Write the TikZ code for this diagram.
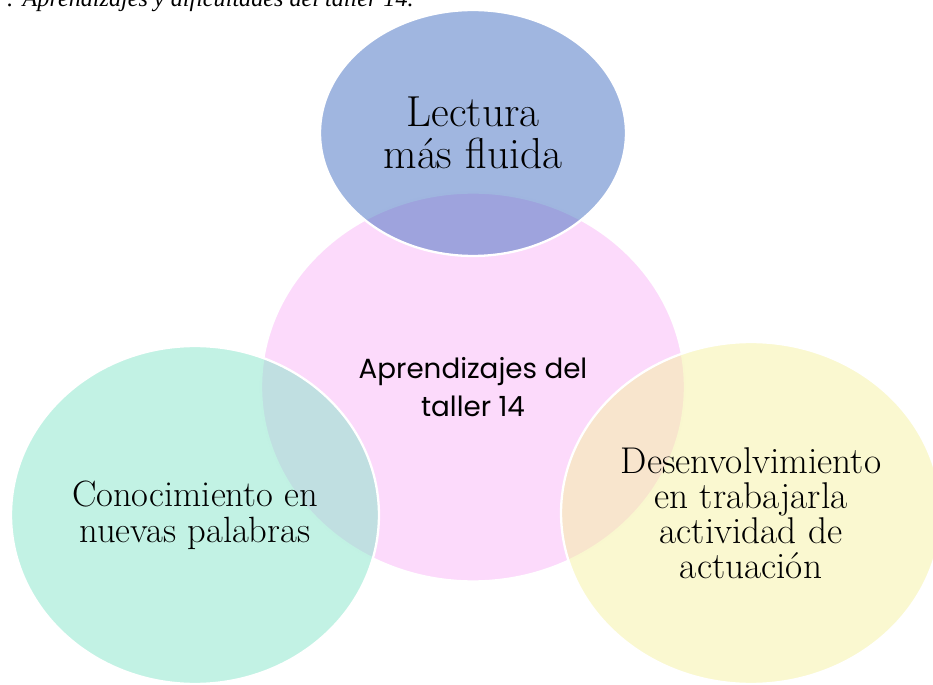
\documentclass[tikz,border=0pt]{standalone}
\usepackage{fontspec}
\usepackage{xcolor}
\usepackage{tikz}
\usetikzlibrary{shapes.geometric}
\newfontfamily\capfont{Liberation Serif}
\newfontfamily\handfont{Poppins}
\definecolor{bluec}{HTML}{416DC1}
\definecolor{pinkc}{HTML}{FCDAFB}
\definecolor{greenc}{HTML}{85E5C9}
\definecolor{yellowc}{HTML}{F5F1A1}
\tikzset{
  blob/.style={ellipse,draw=white,line width=1.3pt,inner sep=0pt,align=center,text opacity=1},
  soft/.style={blob,fill opacity=0.5,draw opacity=1}
}
\begin{document}
\begin{tikzpicture}[x=0.02cm,y=-0.02cm]
\useasboundingbox (0,0) rectangle (933,685);
\clip (0,0) rectangle (933,685);
% caption, cut at the top
\node[anchor=base east,inner sep=0pt,font=\capfont\itshape\fontsize{13.75}{15}\selectfont] (cap) at (414,7) {: Aprendizajes y dificultades del taller 14.};
% centre
\node[blob,fill=pinkc,minimum width=8.48cm,minimum height=7.78cm,font=\handfont\fontsize{15.8}{21.6}\selectfont] (mid) at (473,387) {Aprendizajes del\\taller 14};
% outer ones
\node[soft,fill=bluec,minimum width=6.12cm,minimum height=4.92cm,font=\fontsize{24.7}{24}\selectfont] (top) at (473,133) {Lectura\\más fluida};
\node[soft,fill=greenc,minimum width=7.36cm,minimum height=6.76cm,font=\fontsize{20.8}{20.5}\selectfont] (left) at (195,515) {Conocimiento en\\nuevas palabras};
\node[soft,fill=yellowc,minimum width=7.6cm,minimum height=6.84cm,font=\fontsize{21.2}{20}\selectfont] (right) at (751,513) {Desenvolvimiento\\en trabajarla\\actividad de\\actuación};
\end{tikzpicture}
\end{document}
